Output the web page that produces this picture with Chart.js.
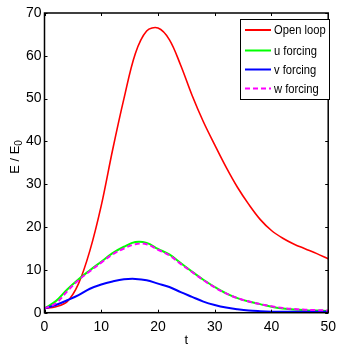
<!DOCTYPE html>
<html>
<head>
<meta charset="utf-8">
<script src="https://cdn.jsdelivr.net/npm/chart.js@4"></script>
<style>
  html, body { margin: 0; padding: 0; background: #fff; }
  #wrap { width: 342px; height: 346px; }
</style>
</head>
<body>
<div id="wrap"><canvas id="energyChart"></canvas></div>
<script>
// time axis
const times = [0, 2, 4, 6, 8, 10, 12, 14, 16, 18, 20, 22, 24, 26, 28, 30, 32, 34, 36, 38, 40, 42, 44, 46, 48, 50];

// energy ratio E/E0 for each case
const openLoop = [1.0, 1.4, 2.6, 6.8, 14.5, 25, 38, 50, 60.5, 65.8, 66.5, 63.8, 57.8, 50.8, 44.6, 39.2, 34, 29.3, 25.3, 21.8, 19.2, 17.4, 16, 14.9, 13.8, 12.6];
const uForcing = [1.0, 2.7, 5.4, 7.8, 9.9, 11.9, 13.9, 15.4, 16.5, 16.3, 14.9, 13.6, 11.6, 9.6, 7.7, 6.0, 4.5, 3.4, 2.6, 2.0, 1.4, 1.0, 0.75, 0.6, 0.5, 0.4];
const vForcing = [1.0, 1.8, 2.9, 4.1, 5.6, 6.6, 7.3, 7.8, 7.9, 7.6, 6.8, 6.0, 4.8, 3.7, 2.6, 1.8, 1.2, 0.8, 0.5, 0.35, 0.25, 0.2, 0.2, 0.2, 0.2, 0.2];
const wForcing = [1.0, 2.2, 5.0, 7.6, 9.7, 11.7, 13.6, 15.0, 16.0, 16.0, 14.7, 13.4, 11.4, 9.5, 7.6, 5.9, 4.5, 3.4, 2.6, 2.0, 1.5, 1.1, 0.85, 0.7, 0.6, 0.5];

const seriesLabels = ["Open loop", "u forcing", "v forcing", "w forcing"];
const xTicks = [0, 10, 20, 30, 40, 50];
const yTicks = [0, 10, 20, 30, 40, 50, 60, 70];

const FONT = "Liberation Sans, Arial, sans-serif";

function pts(ys) {
    return times.map((t, i) => ({x: t, y: ys[i]}));
}

// frame, inward ticks, axis titles and legend like the matlab figure
const matlabBits = {
    id: "matlabBits",
    afterDraw(chart) {
        const ctx = chart.ctx;
        const a = chart.chartArea;
        const xs = chart.scales.x, ys = chart.scales.y;
        ctx.save();
        ctx.strokeStyle = "#000";
        ctx.lineWidth = 1;
        ctx.beginPath();
        for (const v of xTicks) {
            const px = Math.round(xs.getPixelForValue(v)) + 0.5;
            ctx.moveTo(px, a.bottom); ctx.lineTo(px, a.bottom - 3);
            ctx.moveTo(px, a.top); ctx.lineTo(px, a.top + 3);
        }
        for (const v of yTicks) {
            const py = Math.round(ys.getPixelForValue(v)) + 0.5;
            ctx.moveTo(a.left, py); ctx.lineTo(a.left + 3, py);
            ctx.moveTo(a.right, py); ctx.lineTo(a.right - 3, py);
        }
        ctx.stroke();
        ctx.lineWidth = 1.5;
        ctx.strokeRect(a.left, a.top, a.right - a.left, a.bottom - a.top);

        // axis titles
        ctx.fillStyle = "#000";
        ctx.font = "13px " + FONT;
        ctx.textAlign = "center";
        ctx.textBaseline = "middle";
        ctx.fillText("t", (a.left + a.right) / 2, 340);

        ctx.translate(15, 157);
        ctx.rotate(-Math.PI / 2);
        ctx.textAlign = "left";
        const main = "E / E";
        const w = ctx.measureText(main).width;
        ctx.font = "10px " + FONT;
        const w0 = ctx.measureText("0").width;
        const start = -(w + w0) / 2;
        ctx.font = "13px " + FONT;
        ctx.fillText(main, start, 0);
        ctx.font = "10px " + FONT;
        ctx.fillText("0", start + w, 4);
        ctx.restore();

        // legend box
        ctx.save();
        const bx = 240.5, by = 19.5, bw = 89, bh = 80;
        ctx.fillStyle = "#fff";
        ctx.fillRect(bx, by, bw, bh);
        ctx.strokeStyle = "#000";
        ctx.lineWidth = 1;
        ctx.strokeRect(bx, by, bw, bh);
        const rows = [30, 50.5, 69.5, 88.5];
        ctx.font = "13px " + FONT;
        ctx.textBaseline = "middle";
        ctx.textAlign = "left";
        chart.data.datasets.forEach((ds, i) => {
            ctx.strokeStyle = ds.borderColor;
            ctx.lineWidth = 2;
            ctx.setLineDash(ds.borderDash || []);
            ctx.beginPath();
            ctx.moveTo(245, rows[i]);
            ctx.lineTo(271, rows[i]);
            ctx.stroke();
            ctx.setLineDash([]);
            ctx.fillStyle = "#000";
            // matlab's font is a bit narrower
            ctx.save();
            ctx.translate(274, rows[i] + 0.5);
            ctx.scale(0.86, 1);
            ctx.fillText(ds.label, 0, 0);
            ctx.restore();
        });
        ctx.restore();
    }
};

new Chart("energyChart", {
    type: "line",
    data: {
        datasets: [
            {label: seriesLabels[0], data: pts(openLoop), borderColor: "#ff0000", borderWidth: 1.6, order: 3},
            {label: seriesLabels[1], data: pts(uForcing), borderColor: "#00ff00", borderWidth: 2, order: 2},
            {label: seriesLabels[2], data: pts(vForcing), borderColor: "#0000ff", borderWidth: 2, order: 1},
            {label: seriesLabels[3], data: pts(wForcing), borderColor: "#ff00ff", borderWidth: 2, borderDash: [5, 3], order: 0}
        ]
    },
    options: {
        responsive: true,
        maintainAspectRatio: false,
        animation: false,
        layout: {padding: {left: 0, right: 8.5, top: 13, bottom: 0}},
        elements: {
            point: {radius: 0},
            line: {tension: 0.35, fill: false}
        },
        plugins: {
            legend: {display: false},
            tooltip: {enabled: false}
        },
        scales: {
            x: {
                type: "linear",
                min: 0, max: 50,
                afterBuildTicks: s => { s.ticks = xTicks.map(v => ({value: v})); },
                afterFit: s => { s.height = 33.3; },
                grid: {display: false, drawTicks: false},
                border: {display: false},
                ticks: {color: "#000", padding: 6, maxRotation: 0, font: {family: FONT, size: 14}}
            },
            y: {
                min: 0, max: 70,
                afterBuildTicks: s => { s.ticks = yTicks.map(v => ({value: v})); },
                afterFit: s => { s.width = 44.5; },
                grid: {display: false, drawTicks: false},
                border: {display: false},
                ticks: {color: "#000", padding: 3, font: {family: FONT, size: 14}}
            }
        }
    },
    plugins: [matlabBits]
});
</script>
</body>
</html>
